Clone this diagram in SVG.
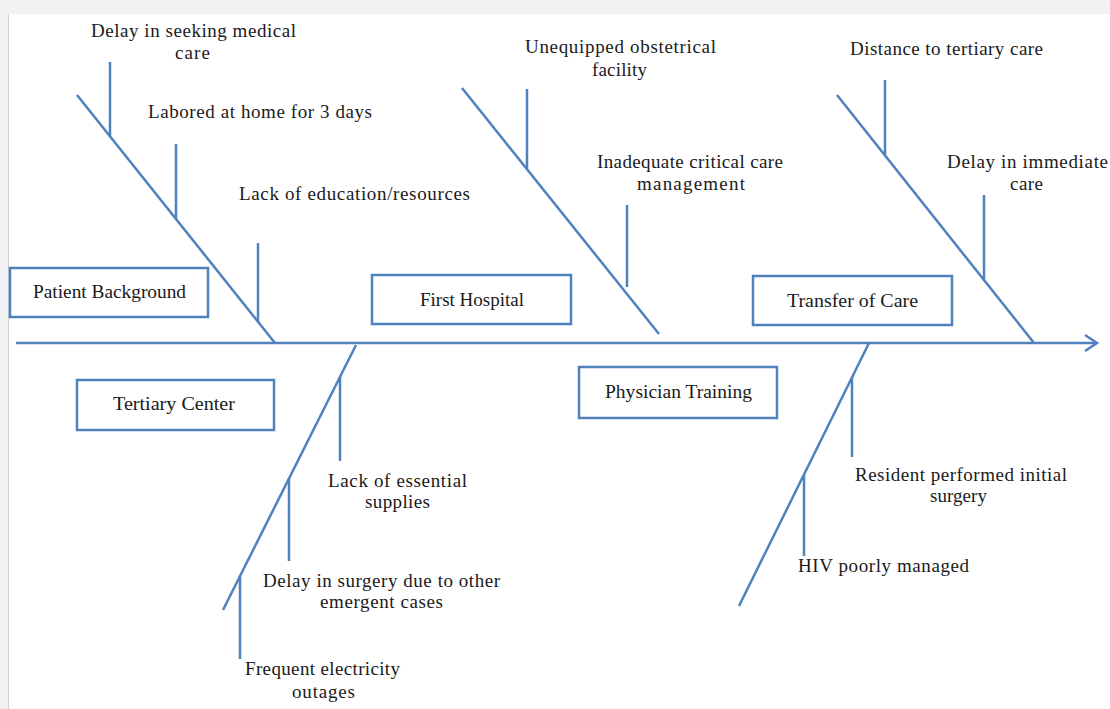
<svg xmlns="http://www.w3.org/2000/svg" width="1110" height="709" viewBox="0 0 1110 709">
  <defs>
    <style>
      .bone { stroke: #4f81bd; stroke-width: 2.5; fill: none; stroke-linecap: butt; }
      .box { fill: #ffffff; stroke: #4f81bd; stroke-width: 2.5; }
      .lbl { font-family: "Liberation Serif", "Times New Roman", serif; font-size: 19px; fill: #1a1a1a; }
      .cat { font-family: "Liberation Serif", "Times New Roman", serif; font-size: 18px; fill: #1a1a1a; }
    </style>
    <marker id="arrow" markerWidth="16" markerHeight="20" refX="13" refY="10" orient="auto" markerUnits="userSpaceOnUse">
      <polyline points="1,2 13,10 1,18" fill="none" stroke="#4f81bd" stroke-width="2.5"/>
    </marker>
  </defs>

  <!-- page frame -->
  <rect x="0" y="0" width="1110" height="709" fill="#ffffff"/>
  <rect x="0" y="0" width="1110" height="14" fill="#f1f2f4"/>
  <rect x="0" y="0" width="8" height="709" fill="#f1f2f4"/>
  <line x1="8.5" y1="14" x2="8.5" y2="709" stroke="#d2d2d2" stroke-width="1"/>

  <!-- connectors: spine, bones and ribs -->
  <g id="connectors">
    <line class="bone" x1="16" y1="343" x2="1097" y2="343" marker-end="url(#arrow)"/>

    <!-- upper bones -->
    <line class="bone" x1="77" y1="95" x2="275" y2="343"/>
    <line class="bone" x1="462" y1="88" x2="659" y2="334"/>
    <line class="bone" x1="837" y1="95" x2="1034" y2="343"/>

    <!-- lower bones -->
    <line class="bone" x1="356" y1="345" x2="223" y2="610"/>
    <line class="bone" x1="869" y1="343" x2="739" y2="606"/>

    <!-- ribs -->
    <line class="bone" x1="110" y1="62" x2="110" y2="137"/>
    <line class="bone" x1="176" y1="144" x2="176" y2="220"/>
    <line class="bone" x1="258" y1="243" x2="258" y2="322"/>
    <line class="bone" x1="527" y1="89" x2="527" y2="169"/>
    <line class="bone" x1="627" y1="205" x2="627" y2="287"/>
    <line class="bone" x1="885" y1="80" x2="885" y2="156"/>
    <line class="bone" x1="984" y1="195" x2="984" y2="279"/>
    <line class="bone" x1="340" y1="377" x2="340" y2="461"/>
    <line class="bone" x1="289" y1="478" x2="289" y2="561"/>
    <line class="bone" x1="240" y1="576" x2="240" y2="659"/>
    <line class="bone" x1="852" y1="377" x2="852" y2="457"/>
    <line class="bone" x1="804" y1="475" x2="804" y2="556"/>
  </g>

  <!-- category boxes -->
  <g id="patient-background">
    <rect class="box" x="10" y="268" width="198" height="49"/>
    <text class="cat" x="33" y="298" textLength="153" lengthAdjust="spacingAndGlyphs">Patient Background</text>
  </g>
  <g id="tertiary-center">
    <rect class="box" x="77" y="380" width="197" height="50"/>
    <text class="cat" x="113" y="410" textLength="122" lengthAdjust="spacingAndGlyphs">Tertiary Center</text>
  </g>
  <g id="first-hospital">
    <rect class="box" x="372" y="275" width="199" height="49"/>
    <text class="cat" x="420" y="306" textLength="104" lengthAdjust="spacingAndGlyphs">First Hospital</text>
  </g>
  <g id="transfer-of-care">
    <rect class="box" x="753" y="276" width="199" height="49"/>
    <text class="cat" x="787" y="307" textLength="131" lengthAdjust="spacingAndGlyphs">Transfer of Care</text>
  </g>
  <g id="physician-training">
    <rect class="box" x="579" y="367" width="198" height="51"/>
    <text class="cat" x="605" y="398" textLength="147" lengthAdjust="spacingAndGlyphs">Physician Training</text>
  </g>

  <!-- cause labels -->
  <g id="cause-delay-seeking">
    <text class="lbl" x="91" y="37" textLength="205">Delay in seeking medical</text>
    <text class="lbl" x="175" y="59" textLength="35">care</text>
  </g>
  <g id="cause-labored">
    <text class="lbl" x="148" y="118" textLength="224">Labored at home for 3 days</text>
  </g>
  <g id="cause-education">
    <text class="lbl" x="239" y="200" textLength="231">Lack of education/resources</text>
  </g>
  <g id="cause-unequipped">
    <text class="lbl" x="525" y="53" textLength="191">Unequipped obstetrical</text>
    <text class="lbl" x="592" y="76" textLength="55">facility</text>
  </g>
  <g id="cause-critical-care">
    <text class="lbl" x="597" y="168" textLength="186">Inadequate critical care</text>
    <text class="lbl" x="637" y="190" textLength="108">management</text>
  </g>
  <g id="cause-distance">
    <text class="lbl" x="850" y="55" textLength="193">Distance to tertiary care</text>
  </g>
  <g id="cause-immediate-care">
    <text class="lbl" x="947" y="168" textLength="161">Delay in immediate</text>
    <text class="lbl" x="1010" y="190" textLength="33">care</text>
  </g>
  <g id="cause-supplies">
    <text class="lbl" x="328" y="487" textLength="139">Lack of essential</text>
    <text class="lbl" x="365" y="508" textLength="65">supplies</text>
  </g>
  <g id="cause-surgery-delay">
    <text class="lbl" x="263" y="587" textLength="237">Delay in surgery due to other</text>
    <text class="lbl" x="320" y="608" textLength="123">emergent cases</text>
  </g>
  <g id="cause-electricity">
    <text class="lbl" x="245" y="675" textLength="155">Frequent electricity</text>
    <text class="lbl" x="292" y="698" textLength="63">outages</text>
  </g>
  <g id="cause-resident">
    <text class="lbl" x="855" y="481" textLength="212">Resident performed initial</text>
    <text class="lbl" x="930" y="502" textLength="57">surgery</text>
  </g>
  <g id="cause-hiv">
    <text class="lbl" x="798" y="572" textLength="171">HIV poorly managed</text>
  </g>
</svg>
